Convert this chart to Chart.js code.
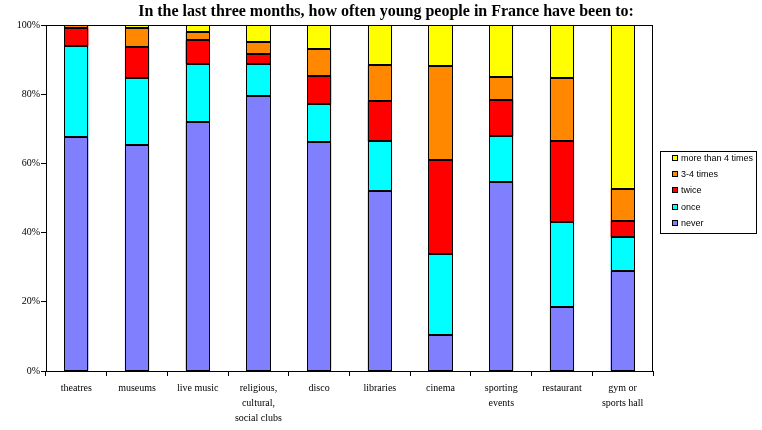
<!DOCTYPE html>
<html>
<head>
<meta charset="utf-8">
<script src="https://cdn.jsdelivr.net/npm/chart.js@4"></script>
<style>
  html, body { margin: 0; padding: 0; background: #fff; }
  #wrap { width: 762px; height: 430px; }
</style>
</head>
<body>
<div id="wrap"><canvas id="activityChart" width="762" height="430"></canvas></div>
<script>
const categories = [
  "theatres", "museums", "live music", ["religious,", "cultural,", "social clubs"],
  "disco", "libraries", "cinema", ["sporting", "events"], "restaurant", ["gym or", "sports hall"]
];
const never = [67.5, 65.2, 71.9, 79.4, 66.1, 51.9, 10.4, 54.5, 18.5, 29.0];
const once = [26.3, 19.4, 16.8, 9.2, 11.0, 14.5, 23.4, 13.3, 24.7, 9.6];
const twice = [5.3, 9.0, 6.9, 3.0, 8.1, 11.6, 27.1, 10.5, 23.4, 4.8];
const threeFour = [0.9, 5.6, 2.3, 3.5, 7.8, 10.4, 27.2, 6.6, 18.1, 9.2];
const moreThanFour = [0.0, 0.8, 2.1, 4.9, 7.0, 11.6, 11.9, 15.1, 15.3, 47.4];
const yTicks = [0, 20, 40, 60, 80, 100];

const serif = "'Liberation Serif', 'Times New Roman', serif";

// crisp black outlines on every bar segment, taken from the bar elements
const barOutlines = {
  id: "barOutlines",
  afterDatasetsDraw(chart) {
    const ctx = chart.ctx;
    ctx.save();
    ctx.strokeStyle = "#000";
    ctx.lineWidth = 1;
    chart.data.datasets.forEach((ds, i) => {
      chart.getDatasetMeta(i).data.forEach((bar) => {
        const p = bar.getProps(["x", "y", "base", "width"], true);
        if (Math.abs(p.base - p.y) < 0.5) return;
        const l = Math.round(p.x - p.width / 2) + 0.5;
        const r = Math.round(p.x + p.width / 2) - 0.5;
        const t = Math.round(p.y) + 0.5;
        const b = Math.round(p.base) - 0.5;
        ctx.strokeRect(l, t, r - l, Math.max(b - t, 0));
      });
    });
    ctx.restore();
  }
};

// legend in a box on the right, like the original
const boxLegend = {
  id: "boxLegend",
  afterDraw(chart) {
    const ctx = chart.ctx;
    const x = 660, y = 151, w = 96, h = 82;
    ctx.save();
    ctx.strokeStyle = "#000";
    ctx.lineWidth = 1;
    ctx.strokeRect(x + 0.5, y + 0.5, w, h);
    ctx.font = "9px 'Liberation Sans', Arial, sans-serif";
    ctx.textBaseline = "middle";
    const sets = chart.data.datasets.slice().reverse();
    sets.forEach((ds, i) => {
      const cy = Math.round(y + 7 + i * 16.2);
      ctx.fillStyle = ds.backgroundColor;
      ctx.fillRect(x + 12, cy - 3, 6, 6);
      ctx.strokeRect(x + 12.5, cy - 2.5, 5, 5);
      ctx.fillStyle = "#000";
      ctx.fillText(ds.label, x + 21, cy + 0.5);
    });
    // frame round the plot area
    const a = chart.chartArea;
    ctx.strokeRect(Math.round(a.left) + 0.5, Math.round(a.top) + 0.5,
      Math.round(a.right - a.left) - 1, Math.round(a.bottom - a.top));
    ctx.restore();
  }
};

function makeSet(label, data, color) {
  return {
    label: label,
    data: data,
    backgroundColor: color,
    borderWidth: 0,
    barPercentage: 0.4,
    categoryPercentage: 1.0
  };
}

const ctx = document.getElementById("activityChart").getContext("2d");
new Chart(ctx, {
  type: "bar",
  data: {
    labels: categories,
    datasets: [
      makeSet("never", never, "#8080FF"),
      makeSet("once", once, "#00FFFF"),
      makeSet("twice", twice, "#FF0000"),
      makeSet("3-4 times", threeFour, "#FF8800"),
      makeSet("more than 4 times", moreThanFour, "#FFFF00")
    ]
  },
  options: {
    responsive: false,
    animation: false,
    layout: { padding: { left: 10, right: 0, top: 0, bottom: 0 } },
    scales: {
      x: {
        stacked: true,
        grid: { drawOnChartArea: false, offset: true, color: "#000", tickLength: 5 },
        border: { color: "#000" },
        ticks: {
          color: "#000",
          font: { family: serif, size: 10, lineHeight: 1.5 },
          maxRotation: 0,
          autoSkip: false,
          padding: 5
        },
        afterFit(scale) { scale.height = 59; }
      },
      y: {
        stacked: true,
        min: 0,
        max: 100,
        afterBuildTicks(scale) { scale.ticks = yTicks.map((v) => ({ value: v })); },
        grid: { drawOnChartArea: false, color: "#000", tickLength: 5 },
        border: { color: "#000" },
        ticks: {
          color: "#000",
          font: { family: serif, size: 10 },
          padding: 1,
          callback: (v) => v + "%"
        },
        afterFit(scale) { scale.width = 36; }
      },
      // empty right-hand axis keeps room for the legend box
      spacer: {
        type: "linear",
        position: "right",
        display: true,
        grid: { display: false },
        border: { display: false },
        ticks: { display: false },
        afterFit(scale) { scale.width = 109; }
      }
    },
    plugins: {
      legend: { display: false },
      tooltip: { enabled: false },
      title: {
        display: true,
        text: "In the last three months, how often young people in France have been to:",
        color: "#000",
        font: { family: serif, size: 16, weight: "bold" },
        padding: { top: 2, bottom: 3.8 }
      }
    }
  },
  plugins: [barOutlines, boxLegend]
});
</script>
</body>
</html>
